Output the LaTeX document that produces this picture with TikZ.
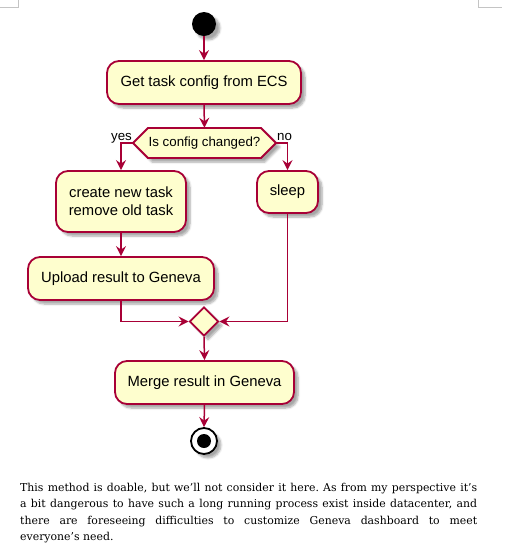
\documentclass[tikz,border=0pt]{standalone}
\usepackage{fontspec}
\setmainfont{Liberation Sans}
\newfontfamily\bodyfont{DejaVu Serif}
\usetikzlibrary{arrows.meta,shapes.geometric,shadows.blur}
\definecolor{puborder}{HTML}{A80036}
\definecolor{pufill}{HTML}{FEFECE}
\definecolor{markgray}{HTML}{C4C4C4}
\tikzset{
  pushadow/.style={blur shadow={shadow xshift=4pt, shadow yshift=-4pt, shadow blur steps=6, shadow opacity=35}},
  act/.style={draw=puborder, fill=pufill, line width=1.8pt, rounded corners=12pt,
    minimum height=43pt, inner sep=0pt, align=center, text=black,
    font=\fontsize{14.8}{18}\selectfont, pushadow},
  decisionshape/.style={draw=puborder, fill=pufill, line width=1.8pt, pushadow},
  decisiontext/.style={minimum width=143pt, minimum height=30pt, inner sep=0pt,
    font=\fontsize{13.3}{16}\selectfont, text=black},
  lbl/.style={inner sep=0pt, font=\fontsize{13.3}{16}\selectfont, text=black},
  mergeshape/.style={diamond, draw=puborder, fill=pufill, line width=1.8pt,
    minimum width=29pt, minimum height=29pt, inner sep=0pt, pushadow},
  startdot/.style={circle, fill=black, minimum size=24pt, inner sep=0pt, pushadow},
  enddot/.style={circle, draw=black, line width=1.8pt, fill=white, minimum size=26pt, inner sep=0pt, pushadow,
    path picture={\fill[black] (path picture bounding box.center) circle (7pt);}},
  flow/.style={draw=puborder, line width=1.5pt, -{Stealth[length=10pt,width=10pt,inset=3.5pt]}},
  cornermark/.style={draw=markgray, line width=0.8pt},
}
\begin{document}
\begin{tikzpicture}[x=1pt,y=-1pt]
\useasboundingbox (0,0) rectangle (513,558);
% page corner marks
\draw[cornermark] (0,7) -- (18,7) -- (18,0);
\draw[cornermark] (478,0) -- (478,7) -- (502,7);

\node[startdot] (start) at (204,24) {};
\node[act, minimum width=194pt] (get) at (204,82.5) {Get task config from ECS};
\coordinate (qc) at (204.5,143);
\draw[decisionshape] ($(qc)+(-56.5,-15)$) -- ($(qc)+(56.5,-15)$) -- ($(qc)+(71.5,0)$)
  -- ($(qc)+(56.5,15)$) -- ($(qc)+(-56.5,15)$) -- ($(qc)+(-71.5,0)$) -- cycle;
\node[decisiontext] (q) at (qc) {Is config changed?};
\node[lbl, anchor=base east] (yes) at (132,140.5) {yes};
\node[lbl, anchor=base west] (no) at (277,140.5) {no};
\node[act, minimum width=130pt, minimum height=61pt] (create) at (121,201.5) {create new task\\remove old task};
\node[act, minimum width=61pt, minimum height=42pt] (sleep) at (287.5,192) {sleep};
\node[act, minimum width=186pt] (upload) at (121,278.5) {Upload result to Geneva};
\node[mergeshape] (dmd) at (204,321.5) {};
\node[act, minimum width=179pt] (merge) at (204.5,382.5) {Merge result in Geneva};
\node[enddot] (end) at (204,441) {};

\draw[flow] (start.south) -- (get.north);
\draw[flow] (get.south) -- (q.north);
\draw[flow] (q.west) -| (create.north);
\draw[flow] (q.east) -| (sleep.north);
\draw[flow] (create.south) -- (upload.north);
\draw[flow] (upload.south) |- (dmd.west);
\draw[flow] (sleep.south) |- (dmd.east);
\draw[flow] (dmd.south) -- (merge.north);
\draw[flow] (merge.south) -- (end.north);

\node[anchor=north west, inner sep=0pt, text width=457pt, align=justify, text=black,
  font=\bodyfont\frenchspacing\fontsize{10.9}{16.4}\selectfont] (para) at (20,483)
  {This method is doable, but we’ll not consider it here. As from my perspective it’s\linebreak
   a bit dangerous to have such a long running process exist inside datacenter, and\linebreak
   there are foreseeing difficulties to customize Geneva dashboard to meet\linebreak
   everyone’s need.};
\end{tikzpicture}
\end{document}
